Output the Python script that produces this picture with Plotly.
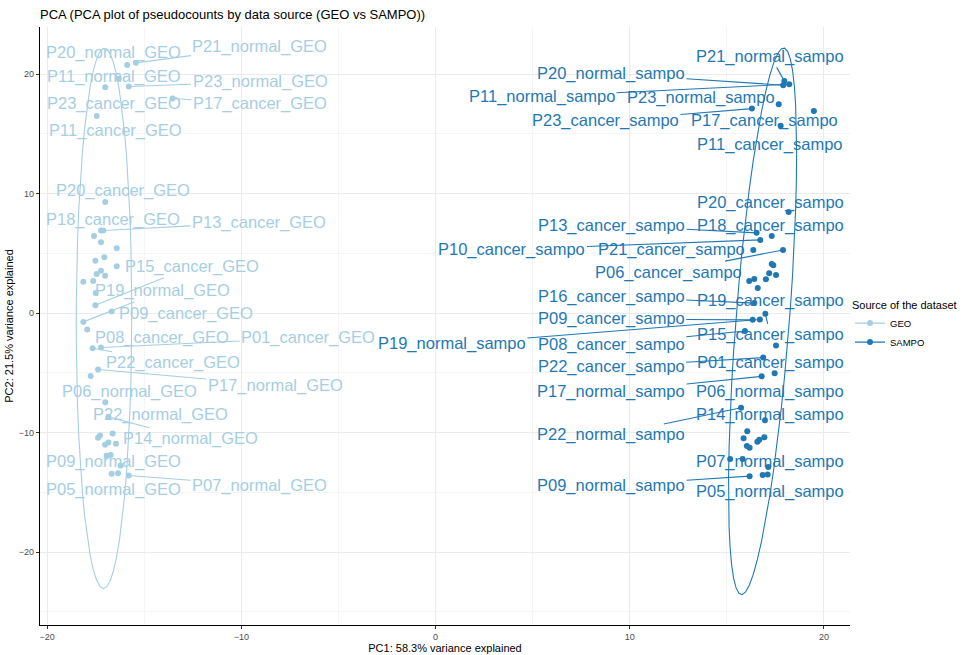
import numpy as np
import plotly.graph_objects as go

# ---------------- data ----------------
geo_pc1 = [-15.88, -15.43, -16.32, -17.01, -15.80, -13.54, -17.45, -17.01, -17.23, -17.11,
           -17.59, -17.23, -16.42, -17.52, -17.06, -16.42, -17.23, -17.45, -17.02, -18.14,
           -17.63, -17.50, -17.52, -16.68, -18.14, -17.94, -17.66, -17.23, -17.38, -17.76,
           -17.01, -16.85, -17.28, -17.38, -16.63, -17.02, -16.85, -16.46, -16.94, -16.73,
           -16.22, -16.68, -16.35, -15.80]
geo_pc2 = [20.76, 20.95, 19.61, 18.91, 18.97, 17.96, 16.50, 9.30, 6.92, 6.92,
           6.45, 5.94, 5.44, 4.39, 4.68, 3.92, 3.55, 3.28, 3.13, 2.63,
           2.69, 1.68, 0.67, 0.14, -0.73, -1.37, -2.94, -2.88, -4.71, -5.27,
           -7.45, -8.68, -10.25, -10.42, -10.08, -11.01, -10.82, -10.92, -11.93, -11.87,
           -12.75, -13.45, -13.39, -13.59]
geo_names = ["P20_normal_GEO", "P21_normal_GEO", "P11_normal_GEO", "P23_cancer_GEO", "P23_normal_GEO",
             "P17_cancer_GEO", "P11_cancer_GEO", "P20_cancer_GEO", "P18_cancer_GEO", "P13_cancer_GEO",
             None, None, None, None, None, None, None, None, None, None,
             None, None, "P15_cancer_GEO", "P09_cancer_GEO", "P19_normal_GEO", "P08_cancer_GEO",
             "P22_cancer_GEO", "P01_cancer_GEO", "P17_normal_GEO", "P06_normal_GEO",
             "P22_normal_GEO", "P14_normal_GEO", None, None, None, None, None, None,
             "P09_normal_GEO", None, None, "P05_normal_GEO", None, "P07_normal_GEO"]

sampo_pc1 = [17.96, 18.21, 17.90, 17.67, 16.29, 19.48, 17.77, 18.18, 16.53, 17.31,
             16.72, 16.36, 17.89, 17.31, 17.39, 16.15, 16.41, 17.01, 17.18, 17.53,
             16.59, 16.41, 16.98, 16.33, 16.70, 15.93, 17.53, 16.87, 17.46, 16.79,
             15.73, 16.96, 16.05, 15.86, 16.03, 16.17, 16.57, 16.67, 16.93, 15.17,
             15.81, 17.13, 16.84, 17.10, 16.17]
sampo_pc2 = [19.44, 19.16, 19.08, 17.48, 17.12, 16.92, 15.69, 8.46, 6.72, 6.45,
             6.13, 5.29, 5.29, 4.12, 4.01, 2.69, 2.86, 2.83, 3.34, 3.19,
             2.10, 0.84, -0.06, -0.56, -0.53, -1.49, -2.71, -3.72, -5.02, -5.29,
             -7.92, -8.97, -9.89, -10.48, -11.12, -11.26, -10.76, -10.59, -10.39, -12.21,
             -12.21, -12.88, -13.55, -13.50, -13.64]
sampo_names = ["P21_normal_sampo", "P11_normal_sampo", "P20_normal_sampo", "P23_normal_sampo",
               "P23_cancer_sampo", "P17_cancer_sampo", "P11_cancer_sampo", "P20_cancer_sampo",
               "P13_cancer_sampo", "P18_cancer_sampo", "P10_cancer_sampo", "P21_cancer_sampo",
               "P06_cancer_sampo", None, None, None, None, None, None, None,
               "P19_cancer_sampo", "P16_cancer_sampo", "P15_cancer_sampo", "P09_cancer_sampo",
               "P19_normal_sampo", "P08_cancer_sampo", "P01_cancer_sampo", "P22_cancer_sampo",
               "P06_normal_sampo", "P17_normal_sampo", "P22_normal_sampo", "P14_normal_sampo",
               None, None, None, None, None, None, None, None,
               "P07_normal_sampo", "P05_normal_sampo", None, None, "P09_normal_sampo"]

groups = ["GEO", "SAMPO"]

# ---------------- label layout (pixel offsets of label centre from point, segment flag) ----------------
label_layout = {
    "P20_normal_GEO": (-13.8, -14, False), "P21_normal_GEO": (124, -17.7, True),
    "P11_normal_GEO": (-4.7, -3.7, False), "P23_cancer_GEO": (8.7, 15, False),
    "P23_normal_GEO": (131.3, -6.3, True), "P17_cancer_GEO": (87.3, 3.7, True),
    "P11_cancer_GEO": (18.3, 13.3, False), "P20_cancer_GEO": (18.2, -13.3, False),
    "P18_cancer_GEO": (12.5, -12.7, False), "P13_cancer_GEO": (155.7, -9.7, True),
    "P15_cancer_GEO": (96.2, -40, True), "P09_cancer_GEO": (74.6, 1, False),
    "P19_normal_GEO": (79.2, -32.7, True), "P08_cancer_GEO": (74.7, 6.7, False),
    "P22_cancer_GEO": (80.3, 13, True), "P01_cancer_GEO": (207.3, -11.3, True),
    "P17_normal_GEO": (177, 14.3, True), "P06_normal_GEO": (38.6, 14, False),
    "P22_normal_GEO": (55.5, 10.6, False), "P14_normal_GEO": (82.4, 20.4, True),
    "P09_normal_GEO": (7.3, 4.7, False), "P05_normal_GEO": (2.3, 14.3, False),
    "P07_normal_GEO": (130.6, 8.6, True),
    "P21_normal_sampo": (-14, -26, True), "P11_normal_sampo": (-247.3, 10.7, True),
    "P20_normal_sampo": (-172.3, -13, True), "P23_normal_sampo": (-77.7, -8.7, False),
    "P23_cancer_sampo": (-146.5, 10.7, True), "P17_cancer_sampo": (-49.5, 8.3, False),
    "P11_cancer_sampo": (-10.4, 17, False), "P20_cancer_sampo": (-18.4, -11, False),
    "P13_cancer_sampo": (-145, -9, True), "P18_cancer_sampo": (-1.4, -12.3, False),
    "P10_cancer_sampo": (-248.3, 8, True), "P21_cancer_sampo": (-81.6, -2, False),
    "P06_cancer_sampo": (-115, 20.7, True), "P19_cancer_sampo": (12.6, 11, False),
    "P16_cancer_sampo": (-143, -8, True), "P15_cancer_sampo": (5, 19.6, True),
    "P09_cancer_sampo": (-141.4, -2.4, True), "P19_normal_sampo": (-308, 23, True),
    "P08_cancer_sampo": (-133.7, 11.6, True), "P01_cancer_sampo": (-5.7, 15.4, False),
    "P22_cancer_sampo": (-152, 7.7, True), "P06_normal_sampo": (-4.4, 17, False),
    "P17_normal_sampo": (-150.5, 13.7, True), "P22_normal_sampo": (-129.8, 25.7, True),
    "P14_normal_sampo": (5.3, -7.4, False), "P07_normal_sampo": (27.6, 0.7, False),
    "P05_normal_sampo": (2, 22.7, False), "P09_normal_sampo": (-138.5, 7.7, True),
}
LABEL_DY = 1.5  # small vertical nudge of all labels (px, downward)

colors = {"GEO": "#a6cee3", "SAMPO": "#1f78b4"}
FONT = "Liberation Sans, Arial, Helvetica, sans-serif"


def cov_trob(X, nu=5, maxit=25, tol=0.01):
    n, p = X.shape
    wt = np.ones(n)
    loc = X.mean(axis=0)
    w = np.sqrt(wt)
    Xc = X - loc
    for _ in range(maxit):
        w0 = w
        Xc = X - loc
        _, s, Vt = np.linalg.svd(np.sqrt(w / w.sum())[:, None] * Xc, full_matrices=False)
        wX = Xc @ Vt.T @ np.diag(1.0 / s)
        Q = (wX ** 2).sum(axis=1)
        w = (wt * (nu + p)) / (nu + Q)
        loc = (w[:, None] * X).sum(axis=0) / w.sum()
        if np.all(np.abs(w - w0) < tol):
            break
    sw = np.sqrt(w)[:, None] * Xc
    cov = sw.T @ sw / wt.sum()
    return loc, cov


def stat_ellipse(x, y, level=0.95, segments=51):
    X = np.column_stack([x, y])
    n = X.shape[0]
    loc, cov = cov_trob(X)
    dfn, dfd = 2, n - 1
    qf = dfd / 2.0 * ((1 - level) ** (-2.0 / dfd) - 1)  # F quantile for dfn = 2
    radius = np.sqrt(dfn * qf)
    U = np.linalg.cholesky(cov).T
    ang = np.arange(segments + 1) * 2 * np.pi / segments
    circ = np.column_stack([np.cos(ang), np.sin(ang)])
    e = loc + radius * (circ @ U)
    return e[:, 0], e[:, 1]


fig = go.Figure()
series = {"GEO": (geo_pc1, geo_pc2, geo_names), "SAMPO": (sampo_pc1, sampo_pc2, sampo_names)}

annotations = []
for g in groups:
    xs, ys, names = series[g]
    c = colors[g]
    ex, ey = stat_ellipse(np.array(xs), np.array(ys))
    fig.add_trace(go.Scatter(x=ex, y=ey, mode="lines", line=dict(color=c, width=1.1),
                             showlegend=False, hoverinfo="skip"))
    fig.add_trace(go.Scatter(x=xs, y=ys, mode="markers", marker=dict(color=c, size=6),
                             showlegend=False, text=[n or "" for n in names]))
    fig.add_trace(go.Scatter(x=[None], y=[None], mode="lines+markers", name=g,
                             marker=dict(color=c, size=6), line=dict(color=c, width=1.1)))
    for xv, yv, nm in zip(xs, ys, names):
        if nm is None:
            continue
        dx, dy, seg = label_layout[nm]
        dy = dy + LABEL_DY
        if seg:
            annotations.append(dict(x=xv, y=yv, xref="x", yref="y", text=nm, showarrow=True,
                                    ax=dx, ay=dy, arrowhead=0, arrowwidth=1.1, arrowcolor=c,
                                    standoff=0, font=dict(size=16.5, color=c, family=FONT)))
        else:
            annotations.append(dict(x=xv, y=yv, xref="x", yref="y", text=nm, showarrow=False,
                                    xshift=dx, yshift=-dy, xanchor="center", yanchor="middle",
                                    font=dict(size=16.5, color=c, family=FONT)))

fig.update_layout(
    width=979, height=655,
    margin=dict(l=40, r=129, t=27, b=30, autoexpand=False),
    paper_bgcolor="white", plot_bgcolor="white",
    font=dict(family=FONT, color="#000000"),
    title=dict(text="PCA (PCA plot of pseudocounts by data source (GEO vs SAMPO))",
               xref="container", x=40 / 979, xanchor="left",
               yref="container", y=1 - 14 / 655, yanchor="middle",
               font=dict(size=13, color="#000000", family=FONT)),
    annotations=annotations,
    legend=dict(title=dict(text="Source of the dataset", font=dict(size=11, color="#000000")),
                x=1.0, xanchor="left", y=0.553, yanchor="top",
                font=dict(size=9.5, color="#000000"), bgcolor="rgba(0,0,0,0)",
                itemwidth=30, tracegroupgap=0),
    xaxis=dict(range=[-20.37, 21.34], tickvals=[-20, -10, 0, 10, 20], automargin=False,
               showgrid=True, gridcolor="#ebebeb", gridwidth=1,
               minor=dict(tickvals=[-15, -5, 5, 15], showgrid=True, gridcolor="#f5f5f5", gridwidth=0.8),
               showline=True, linecolor="#000000", linewidth=1.3, zeroline=False,
               ticks="outside", ticklen=3, tickcolor="#333333",
               tickfont=dict(size=9, color="#4d4d4d"),
               title=dict(text="PC1: 58.3% variance explained", font=dict(size=11, color="#000000"), standoff=2)),
    yaxis=dict(range=[-26.1, 23.95], tickvals=[-20, -10, 0, 10, 20], automargin=False,
               showgrid=True, gridcolor="#ebebeb", gridwidth=1,
               minor=dict(tickvals=[-25, -15, -5, 5, 15], showgrid=True, gridcolor="#f5f5f5", gridwidth=0.8),
               showline=True, linecolor="#000000", linewidth=1.3, zeroline=False,
               ticks="outside", ticklen=3, tickcolor="#333333",
               tickfont=dict(size=9, color="#4d4d4d"),
               title=dict(text="PC2: 21.5% variance explained", font=dict(size=11, color="#000000"), standoff=2)),
)

fig.write_html("out.html", config={"displayModeBar": False},
               post_script="document.body.style.margin='0px';")
